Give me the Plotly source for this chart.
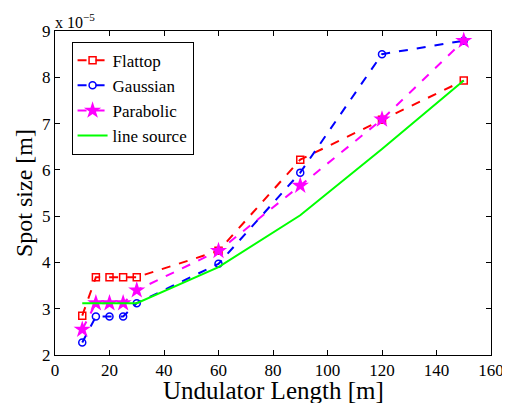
import plotly.graph_objects as go

lengths = [10, 15, 20, 25, 30, 60, 90, 120, 150]
flattop = [2.85, 3.68, 3.68, 3.68, 3.68, 4.25, 6.22, 7.08, 7.93]
gaussian = [2.27, 2.83, 2.83, 2.83, 3.12, 3.97, 5.94, 8.50, 8.79]
parabolic = [2.55, 3.12, 3.12, 3.12, 3.40, 4.25, 5.66, 7.09, 8.79]
line_source = [3.12, 3.12, 3.12, 3.12, 3.12, 3.90, 5.02, 6.45, 7.93]
x_ticks = [0, 20, 40, 60, 80, 100, 120, 140, 160]
y_ticks = [2, 3, 4, 5, 6, 7, 8, 9]

FONT = "Liberation Serif, Times New Roman, serif"

fig = go.Figure()
fig.add_trace(go.Scatter(x=lengths, y=flattop, name="Flattop", mode="lines+markers",
    line=dict(color="#ff0000", width=2, dash="dash"),
    marker=dict(symbol="square-open", size=7, color="#ff0000", line=dict(width=1.5))))
fig.add_trace(go.Scatter(x=lengths, y=gaussian, name="Gaussian", mode="lines+markers",
    line=dict(color="#0000ff", width=2, dash="dash"),
    marker=dict(symbol="circle-open", size=7, color="#0000ff", line=dict(width=1.5))))
fig.add_trace(go.Scatter(x=lengths, y=parabolic, name="Parabolic", mode="lines+markers",
    line=dict(color="#ff00ff", width=2, dash="dash"),
    marker=dict(symbol="star", size=13, color="#ff00ff")))
fig.add_trace(go.Scatter(x=lengths, y=line_source, name="line source", mode="lines",
    line=dict(color="#00ff00", width=2)))

axis_common = dict(showgrid=False, zeroline=False, showline=True, linecolor="black",
    linewidth=1, mirror="ticks", ticks="inside", ticklen=5, tickcolor="black",
    automargin=False,
    tickfont=dict(family=FONT, size=17, color="black"))

# page body has an 8px margin, so the figure is offset by 8px
fig.update_layout(
    width=502, height=395,
    paper_bgcolor="white", plot_bgcolor="white",
    margin=dict(l=47, r=19, t=23, b=48),
    font=dict(family=FONT, color="black"),
    xaxis=dict(range=[0, 160], tickvals=x_ticks, **axis_common),
    yaxis=dict(range=[2, 9], tickvals=y_ticks, **axis_common),
    legend=dict(x=0.038, y=0.967, xanchor="left", yanchor="top",
        bgcolor="white", bordercolor="black", borderwidth=1,
        font=dict(family=FONT, size=17), tracegroupgap=0, itemwidth=30),
    showlegend=True,
)
fig.add_annotation(text="Undulator Length [m]", xref="paper", yref="paper", x=0.5, y=0,
    xanchor="center", yanchor="top", yshift=-20, showarrow=False,
    font=dict(family=FONT, size=25))
fig.add_annotation(text="Spot size [m]", xref="paper", yref="paper", x=0, y=0.5,
    xanchor="right", yanchor="middle", xshift=-16, textangle=-90, showarrow=False,
    font=dict(family=FONT, size=24))
fig.add_annotation(text="x 10<sup>−5</sup>", xref="paper", yref="paper", x=0.0, y=1.0,
    xanchor="left", yanchor="bottom", showarrow=False, font=dict(family=FONT, size=16),
    yshift=-2, xshift=-2)

fig.write_html("out.html")
